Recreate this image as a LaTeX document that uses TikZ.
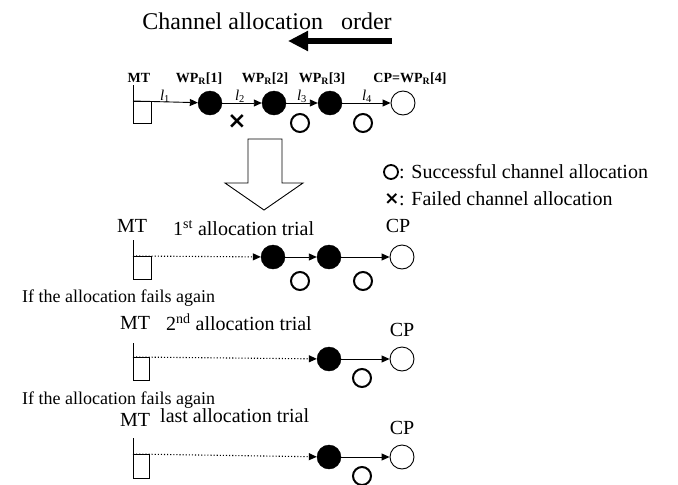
\documentclass[tikz,border=0pt]{standalone}
\usepackage{fontspec}
\setmainfont{Liberation Serif}
\newfontfamily\symfont{DejaVu Sans}
\usetikzlibrary{arrows.meta}
\begin{document}
\begin{tikzpicture}[x=1pt,y=-1pt,
  fillc/.style={circle,fill=black,draw=black,minimum size=24pt,inner sep=0pt},
  openc/.style={circle,fill=white,draw=black,line width=0.9pt,minimum size=24pt,inner sep=0pt},
  okc/.style={circle,draw=black,line width=2pt,minimum size=18pt,inner sep=0pt},
  lnk/.style={line width=0.9pt,-{Triangle[length=8pt,width=7pt]}},
  dlnk/.style={line width=1.1pt,dotted,-{Triangle[length=8pt,width=7pt]}},
  mt/.style={line width=0.9pt},
  lbl/.style={inner sep=0pt,font=\fontsize{14}{16}\selectfont\bfseries},
  lnum/.style={inner sep=0pt,font=\fontsize{15}{17}\selectfont\itshape},
  big/.style={inner sep=0pt,font=\fontsize{20}{22}\selectfont},
  mid/.style={inner sep=0pt,font=\fontsize{18}{20}\selectfont}]
\useasboundingbox (0,0) rectangle (678,485);
% title
\node[inner sep=0pt,font=\fontsize{24}{26}\selectfont] (title) at (267,21) {Channel allocation\hspace{12pt} order};
\coordinate (ta) at (392,41);
\coordinate (tb) at (288,41);
\draw[line width=6.5pt,-{Triangle[length=20pt,width=19pt]}] (ta) -- (tb);
% top row
\coordinate (m0) at (133,101);
\coordinate (mtop0) at (133,85);
\draw[mt] (mtop0) -- (m0);
\draw[mt] (m0) rectangle (151,123);
\node[lbl] (mtl0) at (139,78) {MT};
\node[fillc] (w1) at (210,103) {};
\node[fillc] (w2) at (274,103) {};
\node[fillc] (w3) at (330,103) {};
\node[openc] (cp0) at (403,103) {};
\draw[lnk] (m0) -- (w1);
\draw[lnk] (w1) -- (w2);
\draw[lnk] (w2) -- (w3);
\draw[lnk] (w3) -- (cp0);
\node[lnum] (l1) at (165,96) {l\textsubscript{\upshape 1}};
\node[lnum] (l2) at (240,96) {l\textsubscript{\upshape 2}};
\node[lnum] (l3) at (302,96) {l\textsubscript{\upshape 3}};
\node[lnum] (l4) at (367,96) {l\textsubscript{\upshape 4}};
\node[lbl] (wl1) at (199,79) {WP\textsubscript{R}[1]};
\node[lbl] (wl2) at (265,79) {WP\textsubscript{R}[2]};
\node[lbl] (wl3) at (322,79) {WP\textsubscript{R}[3]};
\node[lbl] (wl4) at (410,79) {CP=WP\textsubscript{R}[4]};
\node[inner sep=0pt,font=\fontsize{23}{23}\selectfont\symfont\bfseries] (x0) at (237,122) {×};
\node[okc] (o02) at (300,123) {};
\node[okc] (o03) at (363,123) {};
% hollow arrow
\draw[line width=0.9pt,fill=white] (248,139) -- (282,139) -- (282,183) -- (303,183) -- (264,210) -- (225,183) -- (248,183) -- cycle;
% legend
\node[circle,draw=black,line width=1.8pt,minimum size=14pt,inner sep=0pt] (lego) at (391,172) {};
\node[big,anchor=west] (legt1) at (399,172) {: Successful channel allocation};
\node[inner sep=0pt,font=\fontsize{18}{18}\selectfont\symfont\bfseries] (legx) at (392,199) {×};
\node[big,anchor=west] (legt2) at (399,199) {: Failed channel allocation};
% 1st trial
\node[big] (mt1) at (132,226) {MT};
\node[big,anchor=west] (tr1) at (173,228) {1\textsuperscript{st} allocation trial};
\node[big] (cpl1) at (398,226) {CP};
\coordinate (m1) at (133,256);
\coordinate (mtop1) at (133,240);
\draw[mt] (mtop1) -- (m1);
\draw[mt] (m1) rectangle (151,279);
\node[fillc] (a1) at (273,257) {};
\node[fillc] (a2) at (329,257) {};
\node[openc] (cp1) at (402,257) {};
\draw[dlnk] (m1) -- (a1);
\draw[lnk] (a1) -- (a2);
\draw[lnk] (a2) -- (cp1);
\node[okc] (o12) at (300,281) {};
\node[okc] (o13) at (363,281) {};
% again 1
\node[mid,anchor=west] (ag1) at (22,298) {If the allocation fails again};
% 2nd trial
\node[big] (mt2) at (135,323) {MT};
\node[big,anchor=west] (tr2) at (166,322) {2\textsuperscript{nd} allocation trial};
\node[big] (cpl2) at (402,330) {CP};
\coordinate (m2) at (133,357);
\coordinate (mtop2) at (133,343);
\draw[mt] (mtop2) -- (m2);
\draw[mt] (m2) rectangle (149,380);
\node[fillc] (b1) at (329,359) {};
\node[openc] (cp2) at (402,359) {};
\draw[dlnk] (m2) -- (b1);
\draw[lnk] (b1) -- (cp2);
\node[okc] (o22) at (362,378) {};
% again 2
\node[mid,anchor=west] (ag2) at (22,400) {If the allocation fails again};
% last trial
\node[big] (mt3) at (135,420) {MT};
\node[big,anchor=west] (tr3) at (160,416) {last allocation trial};
\node[big] (cpl3) at (402,428) {CP};
\coordinate (m3) at (133,454);
\coordinate (mtop3) at (133,438);
\draw[mt] (mtop3) -- (m3);
\draw[mt] (m3) rectangle (149,478);
\node[fillc] (c1) at (329,457) {};
\node[openc] (cp3) at (402,457) {};
\draw[dlnk] (m3) -- (c1);
\draw[lnk] (c1) -- (cp3);
\node[okc] (o32) at (362,476) {};
\end{tikzpicture}
\end{document}
